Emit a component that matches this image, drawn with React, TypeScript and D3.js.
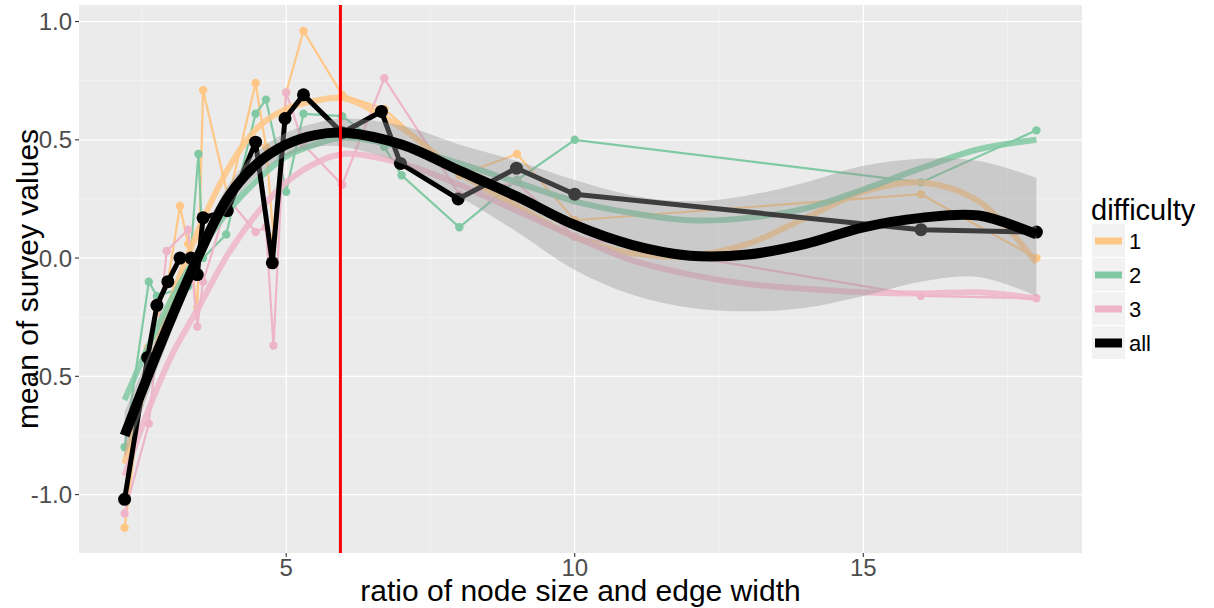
import React from 'react';
import * as d3 from 'd3';

const W = 1214;
const H = 608;
const PL = 79, PR = 1082, PT = 5, PB = 553;

// axis ticks
const xTicks = [5, 10, 15];
const xMinor = [2.5, 7.5, 12.5, 17.5];
const yTicks = [-1.0, -0.5, 0.0, 0.5, 1.0];
const yMinor = [-0.75, -0.25, 0.25, 0.75];
const yTickLabels = ['-1.0', '-0.5', '0.0', '0.5', '1.0'];

// raw means, difficulty 1
const d1X = [2.2, 2.6, 2.76, 2.95, 3.16, 3.3, 3.46, 3.56, 4.0, 4.47, 4.65, 4.78, 5.0, 5.3, 5.97, 6.7, 8.0, 9.0, 10.0, 16.0, 18.0];
const d1Y = [-1.14, -0.38, -0.23, -0.1, 0.22, 0.06, -0.21, 0.71, 0.25, 0.74, 0.47, 0.09, 0.70, 0.96, 0.69, 0.63, 0.35, 0.44, 0.16, 0.27, 0.0];
// difficulty 2
const d2X = [2.2, 2.62, 2.76, 3.3, 3.48, 3.56, 3.96, 4.47, 4.65, 5.0, 5.3, 5.97, 6.7, 7.0, 8.0, 9.0, 10.0, 16.0, 18.0];
const d2Y = [-0.80, -0.10, -0.16, -0.12, 0.44, 0.0, 0.10, 0.61, 0.67, 0.28, 0.61, 0.60, 0.47, 0.35, 0.13, 0.33, 0.50, 0.32, 0.54];
// difficulty 3
const d3X = [2.2, 2.62, 2.93, 3.3, 3.46, 3.56, 4.0, 4.47, 4.65, 4.78, 5.0, 5.3, 5.97, 6.7, 8.0, 9.0, 10.0, 16.0, 18.0];
const d3Y = [-1.08, -0.70, 0.03, 0.12, -0.29, -0.10, 0.25, 0.11, 0.13, -0.37, 0.70, 0.48, 0.31, 0.76, 0.27, 0.32, 0.09, -0.16, -0.17];
// all
const allX = [2.2, 2.6, 2.76, 2.95, 3.16, 3.35, 3.46, 3.56, 3.98, 4.47, 4.76, 4.98, 5.3, 5.97, 6.65, 6.98, 7.98, 8.99, 10.0, 16.0, 18.0];
const allY = [-1.02, -0.42, -0.20, -0.10, 0.0, 0.0, -0.07, 0.17, 0.20, 0.49, -0.02, 0.59, 0.69, 0.53, 0.62, 0.40, 0.25, 0.38, 0.27, 0.12, 0.11];

// smoothed curves read at these x positions
const smX = [2.2, 2.6, 3.0, 3.5, 4.0, 4.5, 5.0, 5.5, 6.0, 7.0, 8.0, 9.0, 10.0, 11.0, 12.0, 13.0, 14.0, 15.0, 16.0, 17.0, 18.0];
const sm1 = [-0.87, -0.50, -0.18, 0.13, 0.38, 0.55, 0.63, 0.665, 0.675, 0.55, 0.36, 0.22, 0.09, 0.02, 0.01, 0.06, 0.17, 0.28, 0.32, 0.24, -0.02];
const sm2 = [-0.60, -0.38, -0.18, 0.03, 0.20, 0.33, 0.43, 0.48, 0.51, 0.47, 0.40, 0.32, 0.24, 0.19, 0.16, 0.17, 0.21, 0.29, 0.38, 0.46, 0.50];
const sm3 = [-0.92, -0.65, -0.42, -0.20, 0.02, 0.19, 0.32, 0.40, 0.44, 0.40, 0.31, 0.20, 0.09, -0.01, -0.07, -0.11, -0.13, -0.145, -0.15, -0.145, -0.17];
const smAll = [-0.75, -0.50, -0.26, 0.02, 0.26, 0.40, 0.48, 0.52, 0.53, 0.48, 0.37, 0.26, 0.14, 0.055, 0.01, 0.015, 0.06, 0.13, 0.17, 0.18, 0.10];
const smAllHi = [-0.65, -0.42, -0.20, 0.07, 0.31, 0.45, 0.53, 0.57, 0.59, 0.56, 0.48, 0.41, 0.33, 0.265, 0.24, 0.265, 0.32, 0.39, 0.42, 0.41, 0.34];
const smAllLo = [-0.85, -0.58, -0.32, -0.03, 0.21, 0.35, 0.43, 0.47, 0.47, 0.40, 0.26, 0.11, -0.05, -0.155, -0.21, -0.225, -0.21, -0.16, -0.10, -0.08, -0.16];

const refLineX = 5.94;

const groupColors = ['#FFC785', '#80C9A3', '#EEB5C9'];
const legendLabels = ['1', '2', '3', 'all'];

const FONT = "'Liberation Sans', Arial, Helvetica, sans-serif";

export default function App() {
  const x = d3.scaleLinear().domain([1.41, 18.79]).range([PL, PR]);
  const y = d3.scaleLinear().domain([-1.247, 1.07]).range([PB, PT]);

  const rawLine = (xs: number[], ys: number[]) =>
    d3.line<number>().x((_, i) => x(xs[i])).y((v) => y(v))(ys) || '';
  const smoothLine = (ys: number[]) =>
    d3.line<number>().x((_, i) => x(smX[i])).y((v) => y(v)).curve(d3.curveCatmullRom.alpha(0.5))(ys) || '';
  const ribbon =
    d3.area<number>()
      .x((_, i) => x(smX[i]))
      .y0((_, i) => y(smAllLo[i]))
      .y1((_, i) => y(smAllHi[i]))
      .curve(d3.curveCatmullRom.alpha(0.5))(smX) || '';

  const raw = [
    { xs: d1X, ys: d1Y },
    { xs: d2X, ys: d2Y },
    { xs: d3X, ys: d3Y },
  ];
  const smooth = [sm1, sm2, sm3];

  const legendX = 1092;
  const legendTop = 224;
  const keyH = 34;

  return (
    <svg width={W} height={H} style={{ position: 'absolute', left: 0, top: 0, background: '#fff' }}>
      <defs>
        <clipPath id="panel">
          <rect x={PL} y={PT} width={PR - PL} height={PB - PT} />
        </clipPath>
      </defs>
      <rect x={PL} y={PT} width={PR - PL} height={PB - PT} fill="#EBEBEB" />
      {xMinor.map((t) => (
        <line key={'xm' + t} x1={x(t)} x2={x(t)} y1={PT} y2={PB} stroke="#F5F5F5" strokeWidth={0.7} />
      ))}
      {yMinor.map((t) => (
        <line key={'ym' + t} x1={PL} x2={PR} y1={y(t)} y2={y(t)} stroke="#F5F5F5" strokeWidth={0.7} />
      ))}
      {xTicks.map((t) => (
        <line key={'xg' + t} x1={x(t)} x2={x(t)} y1={PT} y2={PB} stroke="#FFFFFF" strokeWidth={1.3} />
      ))}
      {yTicks.map((t) => (
        <line key={'yg' + t} x1={PL} x2={PR} y1={y(t)} y2={y(t)} stroke="#FFFFFF" strokeWidth={1.3} />
      ))}

      <g clipPath="url(#panel)">
        {raw.map((r, gi) => (
          <g key={'raw' + gi}>
            <path d={rawLine(r.xs, r.ys)} fill="none" stroke={groupColors[gi]} strokeWidth={2.2} />
            {r.xs.map((xv, i) => (
              <circle key={i} cx={x(xv)} cy={y(r.ys[i])} r={4.2} fill={groupColors[gi]} />
            ))}
          </g>
        ))}
        {smooth.map((s, gi) => (
          <path key={'sm' + gi} d={smoothLine(s)} fill="none" stroke={groupColors[gi]} strokeWidth={6} opacity={0.85} />
        ))}
        <path d={rawLine(allX, allY)} fill="none" stroke="#000" strokeWidth={5} strokeLinejoin="round" />
        {allX.map((xv, i) => (
          <circle key={'a' + i} cx={x(xv)} cy={y(allY[i])} r={6.5} fill="#000" />
        ))}
        <path d={ribbon} fill="#999999" opacity={0.4} />
        <path d={smoothLine(smAll)} fill="none" stroke="#000" strokeWidth={10} />
        <line x1={x(refLineX)} x2={x(refLineX)} y1={PT} y2={PB} stroke="#FF0000" strokeWidth={3} />
      </g>

      {/* axes ticks */}
      {yTicks.map((t, i) => (
        <g key={'yt' + t}>
          <line x1={PL - 4} x2={PL} y1={y(t)} y2={y(t)} stroke="#333333" strokeWidth={1.1} />
          <text x={PL - 7} y={y(t) + 8.5} textAnchor="end" fontFamily={FONT} fontSize={24} fill="#4D4D4D">
            {yTickLabels[i]}
          </text>
        </g>
      ))}
      {xTicks.map((t) => (
        <g key={'xt' + t}>
          <line x1={x(t)} x2={x(t)} y1={PB} y2={PB + 4} stroke="#333333" strokeWidth={1.1} />
          <text x={x(t)} y={PB + 23} textAnchor="middle" fontFamily={FONT} fontSize={24} fill="#4D4D4D">
            {t}
          </text>
        </g>
      ))}
      <text x={(PL + PR) / 2} y={601} textAnchor="middle" fontFamily={FONT} fontSize={30} fill="#000">
        ratio of node size and edge width
      </text>
      <text
        transform={`translate(38, ${(PT + PB) / 2}) rotate(-90)`}
        textAnchor="middle"
        fontFamily={FONT}
        fontSize={30}
        fill="#000"
      >
        mean of survey values
      </text>

      {/* legend */}
      <text x={legendX - 1} y={220} fontFamily={FONT} fontSize={29} fill="#000">
        difficulty
      </text>
      {legendLabels.map((lab, i) => {
        const top = legendTop + i * keyH;
        const cy = top + keyH / 2;
        const isAll = lab === 'all';
        return (
          <g key={'lg' + lab}>
            <rect x={legendX} y={top} width={keyH - 1} height={keyH - 1} fill="#F2F2F2" />
            {isAll ? (
              <line x1={legendX + 3} x2={legendX + keyH - 4} y1={cy} y2={cy} stroke="#000" strokeWidth={9} />
            ) : (
              <line x1={legendX + 3} x2={legendX + keyH - 4} y1={cy} y2={cy} stroke={groupColors[i]} strokeWidth={7} />
            )}
            <text x={legendX + keyH + 3} y={cy + 8} fontFamily={FONT} fontSize={22} fill="#000">
              {lab}
            </text>
          </g>
        );
      })}
    </svg>
  );
}
